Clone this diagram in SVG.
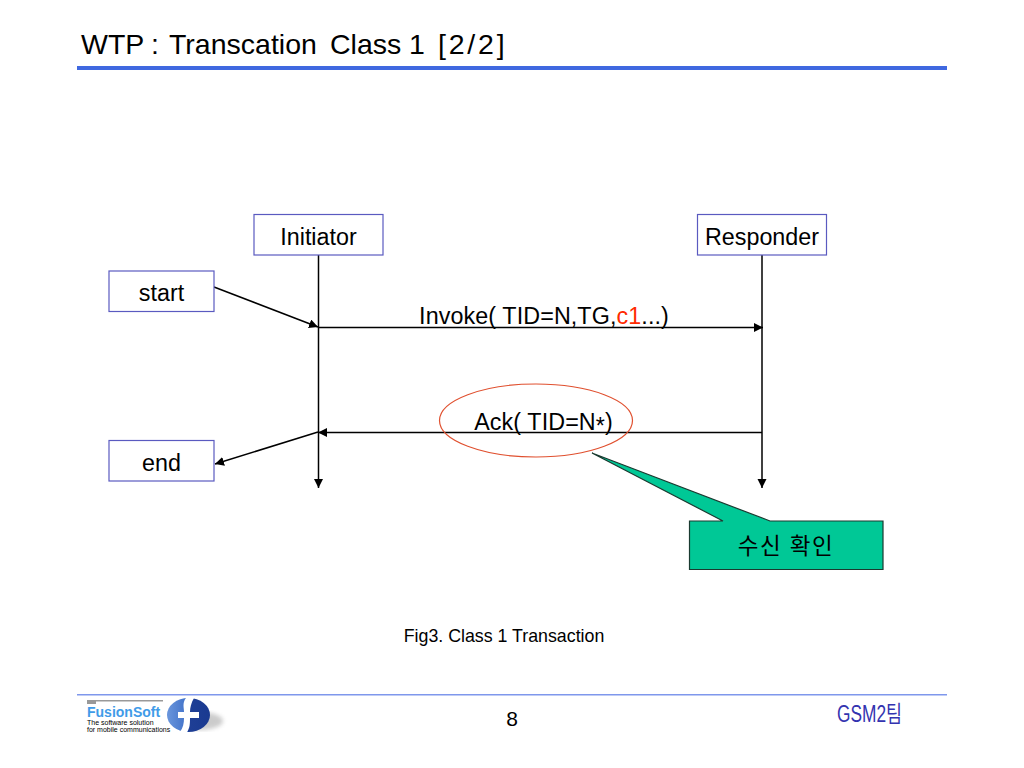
<svg xmlns="http://www.w3.org/2000/svg" width="1024" height="768" viewBox="0 0 1024 768">
<style>
text{font-family:"Liberation Sans",Arial,"Noto Sans CJK KR",sans-serif;fill:#000}
.n{fill:#fff;stroke:#5a5ac0;stroke-width:1.2}
.l{font-size:23.300px;text-anchor:middle}
.c{fill:none;stroke:#000;stroke-width:1.5}
.t{font-size:28.500px}
</style>
<defs>
<marker id="a" markerUnits="userSpaceOnUse" markerWidth="10" markerHeight="10" refX="9" refY="4.500" orient="auto"><path d="M0 0L9 4.500L0 9z" fill="#000"/></marker>
<linearGradient id="lg" x1="0" y1="0" x2="1" y2="0"><stop offset="0" stop-color="#6a96dc"/><stop offset="0.48" stop-color="#3f70c8"/><stop offset="0.48" stop-color="#1f3f96"/><stop offset="1" stop-color="#1a3a90"/></linearGradient>
<filter id="b"><feGaussianBlur stdDeviation="2"/></filter>
</defs>
<rect width="1024" height="768" fill="#fff"/>
<g id="header">
<text class="t" x="81" y="54">WTP</text>
<text class="t" x="151" y="54">:</text>
<text class="t" x="169" y="54">Transcation</text>
<text class="t" x="330" y="54">Class</text>
<text class="t" x="409" y="54">1</text>
<text class="t" x="438" y="54" letter-spacing="2.800">[2/2]</text>
<rect x="77" y="66" width="870" height="4" fill="#3f68e0"/>
</g>
<g id="connectors">
<path class="c" marker-end="url(#a)" d="M318.500 255V488"/>
<path class="c" marker-end="url(#a)" d="M762 255V488"/>
<path class="c" marker-end="url(#a)" d="M318.500 327.500H763"/>
<path class="c" marker-end="url(#a)" d="M762 432.500H318"/>
<path class="c" marker-end="url(#a)" d="M214 287L318 327"/>
<path class="c" marker-end="url(#a)" d="M318 432L215 464"/>
</g>
<g id="initiator"><rect class="n" x="254" y="214.500" width="129" height="40.500"/><text class="l" x="318.500" y="244.500">Initiator</text></g>
<g id="responder"><rect class="n" x="697.500" y="214.500" width="129" height="40.500"/><text class="l" x="762" y="244.500">Responder</text></g>
<g id="start"><rect class="n" x="109" y="271" width="105" height="40.500"/><text class="l" x="161.500" y="301">start</text></g>
<g id="end"><rect class="n" x="109" y="440.500" width="105" height="40.500"/><text class="l" x="161.500" y="470.500">end</text></g>
<g id="invoke-label"><text class="l" x="544" y="324" letter-spacing="0.100">Invoke( TID=N,TG,<tspan fill="#ff2a00">c1</tspan>...)</text></g>
<g id="ack-label"><text class="l" x="543.500" y="430" letter-spacing="0.100">Ack( TID=N<tspan dy="4">*</tspan><tspan dy="-4">)</tspan></text></g>
<g id="highlight"><ellipse cx="536" cy="420.500" rx="96.500" ry="36.500" fill="none" stroke="#e0502f" stroke-width="1.2"/></g>
<g id="callout">
<path d="M689.500 521H723L592 453L770 521H883V569.500H689.500z" fill="#00c896" stroke="#1a3a30" stroke-width="1.200"/>
<text x="786" y="554" font-size="22.500" text-anchor="middle" letter-spacing="1.500">수신 확인</text>
</g>
<g id="caption"><text x="504" y="642" font-size="17.800" text-anchor="middle">Fig3. Class 1 Transaction</text></g>
<g id="footer">
<rect x="77" y="694" width="870" height="1.500" fill="#7f97ec"/>
<text x="512" y="726" font-size="21" text-anchor="middle">8</text>
<text x="837" y="722" font-size="23" textLength="65" lengthAdjust="spacingAndGlyphs" style="fill:#3333b0">GSM2팀</text>
</g>
<g id="logo">
<rect x="87" y="700" width="76" height="1.500" fill="#999"/><rect x="87" y="701" width="9" height="3" fill="#999"/>
<text x="87" y="717" font-size="14" font-weight="bold" style="fill:#3f9be8">FusionSoft</text>
<text x="87" y="725" font-size="7">The software solution</text>
<text x="87" y="732" font-size="7">for mobile communications</text>
<ellipse cx="200" cy="721" rx="23" ry="9" fill="#999" opacity="0.5" filter="url(#b)"/>
<ellipse cx="188.500" cy="715" rx="21.500" ry="17" fill="url(#lg)"/>
<path d="M186 698C182 703 184 708 184 712H178V718H184C184 723 183 728 180 732H187C190 728 190 723 190 718H199V712H190C190 708 191 703 194 698z" fill="#fff"/>
</g>
</svg>
